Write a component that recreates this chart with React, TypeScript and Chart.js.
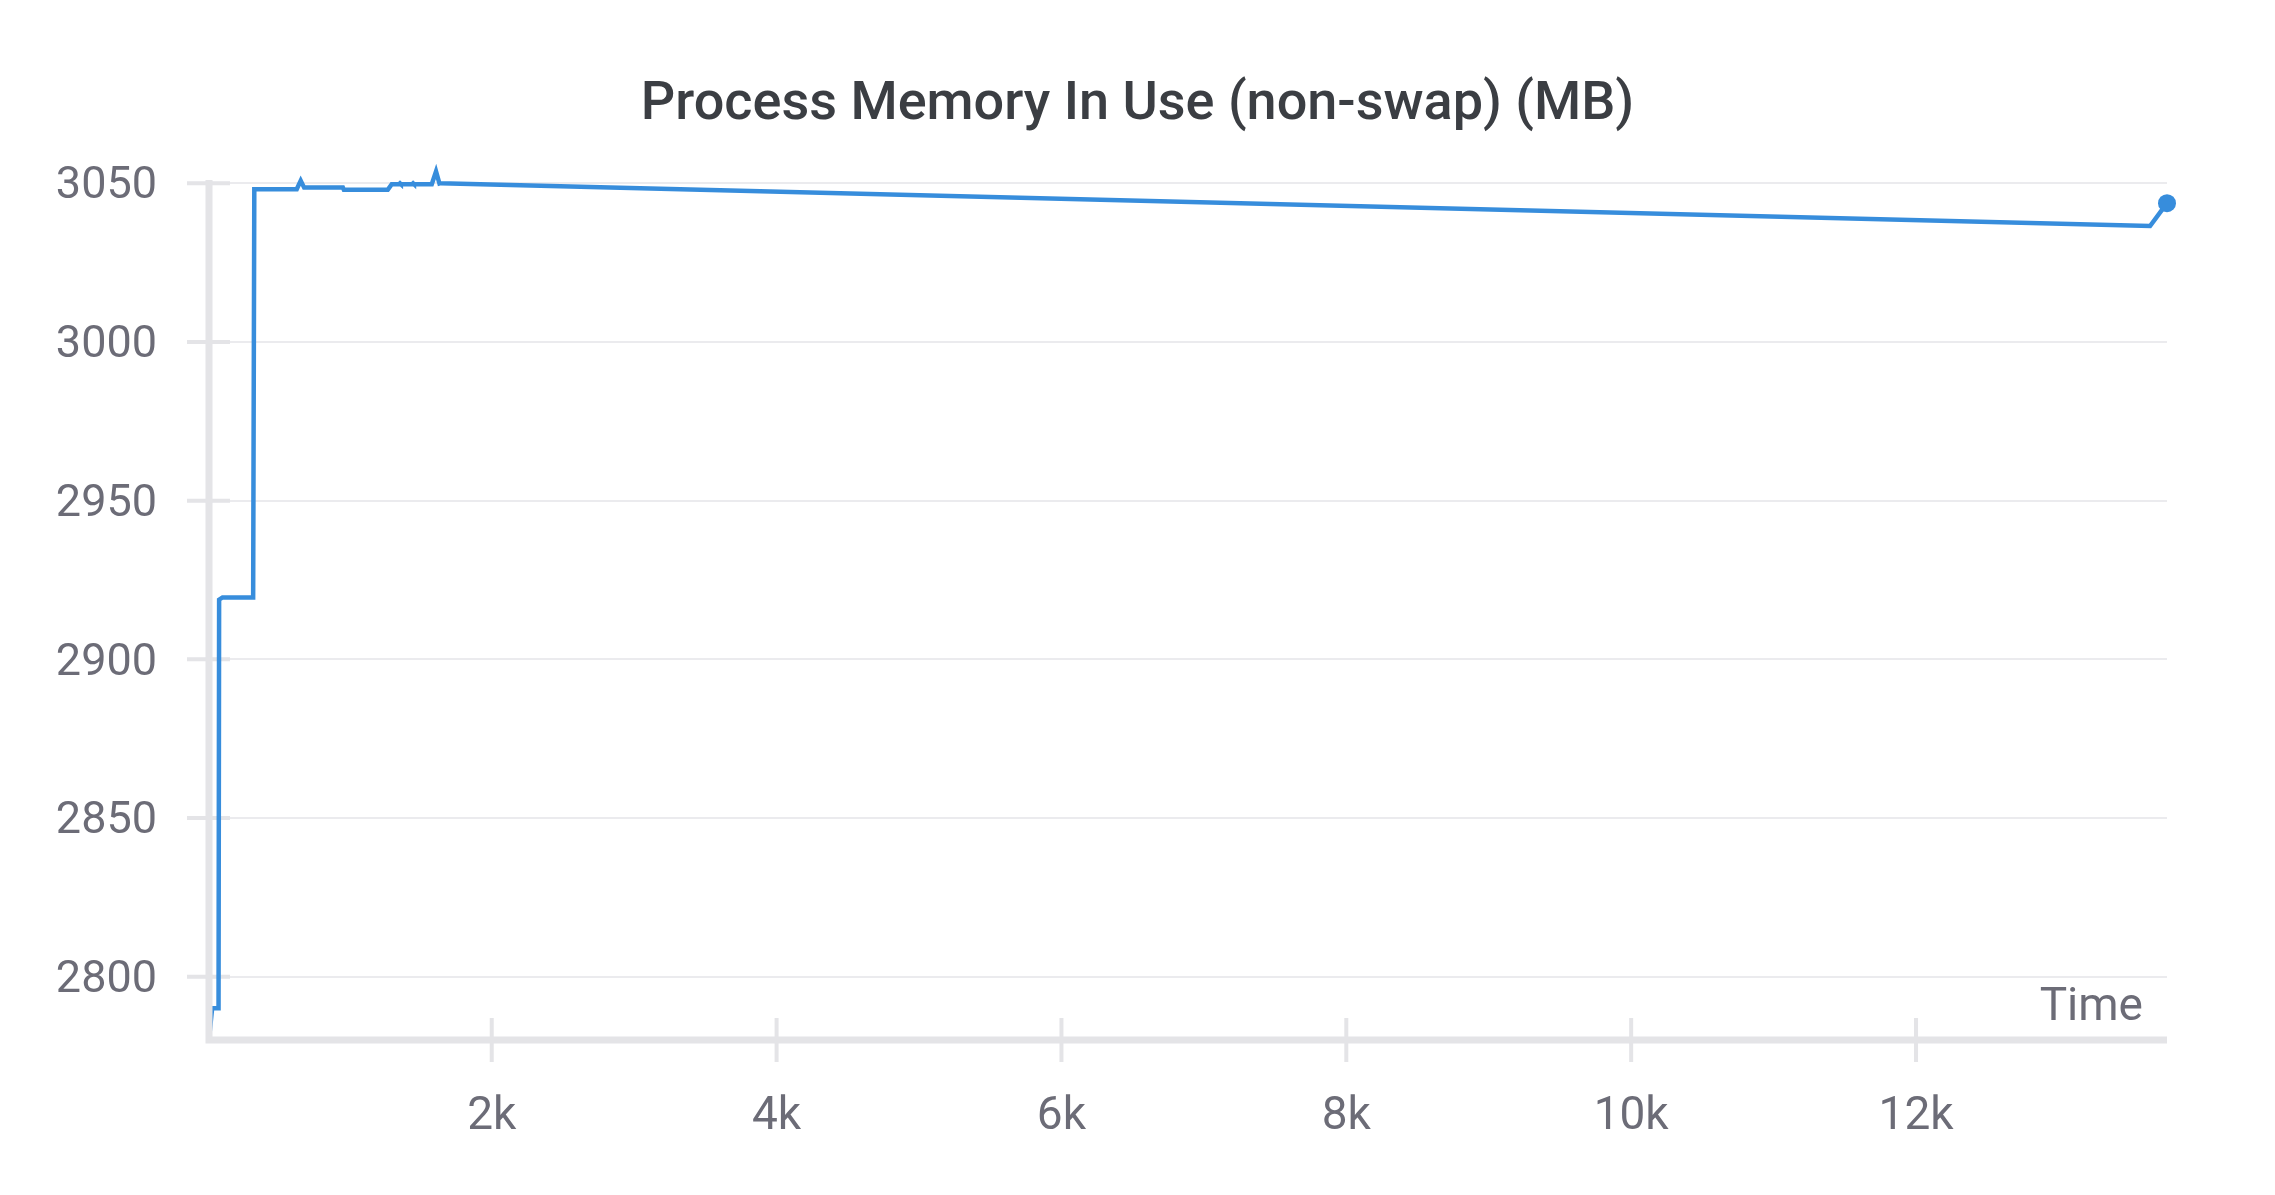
import React, { useEffect, useRef } from "react";
import { Chart, registerables } from "chart.js";

Chart.register(...registerables);

const chartTitle = "Process Memory In Use (non-swap) (MB)";
const xAxisLabel = "Time";

// Time (s)
const timeValues = [
  15, 37, 82, 86, 110, 325, 333, 631, 659, 683, 955, 962, 1270, 1298, 1350, 1356,
  1362, 1442, 1448, 1454, 1579, 1609, 1633, 1640, 13643, 13762,
];
// Memory (MB)
const memoryValues = [
  2780.3, 2790.1, 2790.1, 2918.8, 2919.5, 2919.5, 3048.1, 3048.1, 3050.8, 3048.6,
  3048.6, 3047.9, 3047.9, 3049.7, 3049.7, 3049.95, 3049.7, 3049.7, 3049.95, 3049.7,
  3049.7, 3053.7, 3049.9, 3050.0, 3036.5, 3043.7,
];

const yTickValues = [2800, 2850, 2900, 2950, 3000, 3050];
const xTickValues = [2000, 4000, 6000, 8000, 10000, 12000];

const yMin = 2780.1;
const yMax = 3051;
const xMin = 15;
const xMax = 13762;

const LINE_COLOR = "rgb(55,141,220)";
const TICK_TEXT = "#6c6c77";
const GRID_COLOR = "#ebebee";
const AXIS_COLOR = "#e4e4e7";
const TITLE_COLOR = "#3b3e43";
const FONT = "Roboto";

const decorPlugin = {
  id: "decor",
  beforeDatasetsDraw(chart: any) {
    const { ctx, chartArea: a, scales } = chart;
    ctx.save();
    ctx.strokeStyle = AXIS_COLOR;
    ctx.lineWidth = 4;
    ctx.beginPath();
    for (const v of yTickValues) {
      const y = scales.y.getPixelForValue(v);
      ctx.moveTo(a.left - 22, y);
      ctx.lineTo(a.left + 21, y);
    }
    for (const v of xTickValues) {
      const x = scales.x.getPixelForValue(v);
      ctx.moveTo(x, a.bottom - 22);
      ctx.lineTo(x, a.bottom + 22);
    }
    ctx.stroke();
    ctx.restore();
  },
  afterDatasetsDraw(chart: any) {
    const { ctx, chartArea: a } = chart;
    ctx.save();
    ctx.strokeStyle = AXIS_COLOR;
    ctx.lineWidth = 7;
    ctx.beginPath();
    ctx.moveTo(a.left, a.top);
    ctx.lineTo(a.left, a.bottom + 3.5);
    ctx.moveTo(a.left - 3.5, a.bottom);
    ctx.lineTo(a.right, a.bottom);
    ctx.stroke();
    ctx.restore();
  },
  afterDraw(chart: any) {
    const { ctx, chartArea: a } = chart;
    ctx.save();
    ctx.fillStyle = TITLE_COLOR;
    ctx.font = `500 54px ${FONT}`;
    ctx.textAlign = "center";
    ctx.textBaseline = "alphabetic";
    ctx.fillText(chartTitle, chart.width / 2, 119);
    ctx.fillStyle = TICK_TEXT;
    ctx.font = `400 46px ${FONT}`;
    ctx.textAlign = "right";
    ctx.fillText(xAxisLabel, a.right - 24, a.bottom - 20);
    ctx.restore();
  },
};

export default function App() {
  const canvasRef = useRef<HTMLCanvasElement | null>(null);

  useEffect(() => {
    if (!canvasRef.current) return;
    const points = timeValues.map((t, i) => ({ x: t, y: memoryValues[i] }));
    const lastIndex = points.length - 1;
    const chart = new Chart(canvasRef.current, {
      type: "line",
      data: {
        datasets: [
          {
            label: "Memory",
            data: points,
            borderColor: LINE_COLOR,
            backgroundColor: LINE_COLOR,
            borderWidth: 4.5,
            tension: 0,
            pointRadius: (c: any) => (c.dataIndex === lastIndex ? 9 : 0),
            pointBorderWidth: 0,
            pointHoverRadius: 0,
            clip: { left: 0, top: 30, right: 15, bottom: 0 } as any,
          },
        ],
      },
      options: {
        responsive: false,
        animation: false,
        layout: { padding: { top: 180, right: 108, left: 0, bottom: 0 } },
        plugins: {
          legend: { display: false },
          tooltip: { enabled: false },
          title: { display: false },
        },
        scales: {
          x: {
            type: "linear",
            min: xMin,
            max: xMax,
            grid: { display: false },
            border: { display: false },
            afterBuildTicks: (s: any) => {
              s.ticks = xTickValues.map((v) => ({ value: v }));
            },
            afterFit: (s: any) => {
              s.height = 155;
            },
            ticks: {
              autoSkip: false,
              maxRotation: 0,
              padding: 42,
              color: TICK_TEXT,
              font: { family: FONT, size: 46 },
              callback: (v: any) => `${Number(v) / 1000}k`,
            },
          },
          y: {
            type: "linear",
            min: yMin,
            max: yMax,
            grid: { color: GRID_COLOR, lineWidth: 2, drawTicks: false },
            border: { display: false },
            afterBuildTicks: (s: any) => {
              s.ticks = yTickValues.map((v) => ({ value: v }));
            },
            afterFit: (s: any) => {
              s.width = 209;
            },
            ticks: {
              padding: 52,
              labelOffset: 4,
              color: TICK_TEXT,
              font: { family: FONT, size: 45 },
              callback: (v: any) => String(v),
            },
          },
        },
      },
      plugins: [decorPlugin],
    });
    return () => chart.destroy();
  }, []);

  return (
    <div style={{ position: "fixed", left: 0, top: 0, width: 2275, height: 1195, background: "#fff" }}>
      <canvas ref={canvasRef} width={2275} height={1195} style={{ display: "block" }} />
    </div>
  );
}
